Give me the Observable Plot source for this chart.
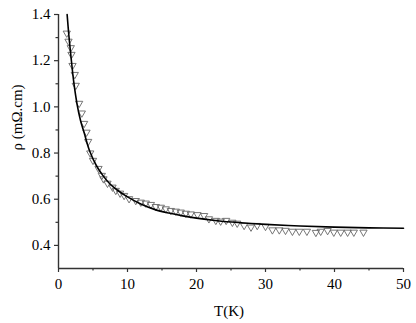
<!DOCTYPE html>
<html>
<head>
<meta charset="utf-8">
<script src="https://cdn.jsdelivr.net/npm/d3@7"></script>
<script src="https://cdn.jsdelivr.net/npm/@observablehq/plot@0.6"></script>
<style>
  html, body { margin: 0; padding: 0; background: #fff; }
  #chart svg text { font-family: "Liberation Serif" !important; }
</style>
</head>
<body>
<div id="chart"></div>
<script>
// Measured data (open down-triangles)
const measT = [1.2, 1.45, 1.78, 1.88, 2.03, 2.36, 2.5, 2.99, 3.38, 3.71, 4.06, 4.3, 4.6, 5.0, 5.8, 6.28,
  6.52, 7.1, 7.83, 8.3, 8.93, 9.51, 10.23, 11.2, 11.93, 12.65, 13.39, 14.1, 14.83, 15.55, 16.28, 17.0,
  17.72, 18.45, 19.17, 20.14, 21.1, 21.8, 22.8, 23.5, 24.3, 25.2, 25.9, 26.9, 27.9, 28.8, 30.0, 31.0,
  32.0, 32.9, 33.9, 34.9, 36.0, 37.3, 38.0, 39.0, 39.9, 40.9, 41.9, 42.8, 44.2];
const measRho = [1.319, 1.284, 1.256, 1.227, 1.179, 1.14, 1.093, 1.015, 0.973, 0.928, 0.89, 0.85, 0.80, 0.768, 0.733, 0.703,
  0.688, 0.669, 0.652, 0.638, 0.626, 0.616, 0.602, 0.594, 0.587, 0.583, 0.577, 0.568, 0.565, 0.558, 0.551, 0.548,
  0.544, 0.539, 0.536, 0.533, 0.529, 0.515, 0.508, 0.505, 0.508, 0.50, 0.496, 0.486, 0.479, 0.486, 0.482, 0.467,
  0.467, 0.465, 0.461, 0.461, 0.461, 0.456, 0.461, 0.464, 0.457, 0.457, 0.457, 0.457, 0.457];

// Fitted curve (solid black line)
const fitT = [1.25, 1.5, 1.8, 2.2, 2.7, 3.2, 3.7, 4.5, 5.5, 6.5, 7.5, 8.5, 10, 12, 14, 16, 18, 20, 23, 26, 30, 35, 40, 45, 50];
const fitRho = [1.40, 1.31, 1.22, 1.11, 1.01, 0.94, 0.89, 0.81, 0.745, 0.70, 0.665, 0.64, 0.61, 0.578, 0.555, 0.54, 0.528, 0.518, 0.507, 0.499, 0.491, 0.484, 0.479, 0.476, 0.474];

const xMajor = [0, 10, 20, 30, 40, 50];
const xMinor = [5, 15, 25, 35, 45];
const yMajor = [0.4, 0.6, 0.8, 1.0, 1.2, 1.4];
const yMinor = [0.5, 0.7, 0.9, 1.1, 1.3];

const xLabel = "T(K)";
const yLabel = "ρ (mΩ.cm)";

const meas = measT.map((t, i) => ({T: t, rho: measRho[i]}));
const fit = fitT.map((t, i) => ({T: t, rho: fitRho[i]}));

const axisColor = "#333";

const chart = Plot.plot({
  width: 416,
  height: 323,
  marginLeft: 58,
  marginRight: 13,
  marginTop: 14,
  marginBottom: 55,
  style: {fontFamily: "Liberation Serif", fontSize: "15px", color: "#000", background: "#fff"},
  x: {domain: [0, 50]},
  y: {domain: [0.3, 1.4]},
  marks: [
    Plot.dot(meas, {x: "T", y: "rho", symbol: "triangle", rotate: 180, r: 2.7, stroke: "#666", strokeWidth: 0.9, fill: "none"}),
    Plot.line(fit, {x: "T", y: "rho", stroke: "#000", strokeWidth: 1.6, curve: "catmull-rom"}),
    Plot.axisX({ticks: xMajor, tickSize: 4, tickPadding: 6, tickFormat: d => String(d), stroke: axisColor, strokeWidth: 1.2, label: null}),
    Plot.axisX({ticks: xMinor, tickSize: 2.5, tickFormat: () => "", stroke: axisColor, strokeWidth: 1.2, label: null}),
    Plot.axisY({ticks: yMajor, tickSize: 4, tickPadding: 4, tickFormat: d => d.toFixed(1), stroke: axisColor, strokeWidth: 1.2, label: null}),
    Plot.axisY({ticks: yMinor, tickSize: 2.5, tickFormat: () => "", stroke: axisColor, strokeWidth: 1.2, label: null}),
    Plot.ruleX([0], {stroke: axisColor, strokeWidth: 1.4}),
    Plot.ruleY([0.3], {stroke: axisColor, strokeWidth: 1.4}),
    Plot.text([xLabel], {frameAnchor: "bottom", dx: -2, dy: 43, fill: "#000", lineAnchor: "middle"}),
    Plot.text([yLabel], {frameAnchor: "left", dx: -41, dy: 9, rotate: -90, fill: "#000", lineAnchor: "middle"})
  ]
});

chart.setAttribute("font-family", "Liberation Serif");
chart.setAttribute("font-size", "15");
chart.querySelectorAll("g, text").forEach(el => {
  if (el.hasAttribute("font-family")) el.setAttribute("font-family", "Liberation Serif");
  if (el.hasAttribute("font-size")) el.setAttribute("font-size", "15");
  if (el.hasAttribute("font-variant")) el.removeAttribute("font-variant");
});
chart.querySelectorAll("text").forEach(t => {
  t.style.setProperty("font-family", "Liberation Serif", "important");
  t.style.setProperty("font-size", "15px", "important");
  t.style.removeProperty("font-variant");
});

document.getElementById("chart").appendChild(chart);
</script>
</body>
</html>
